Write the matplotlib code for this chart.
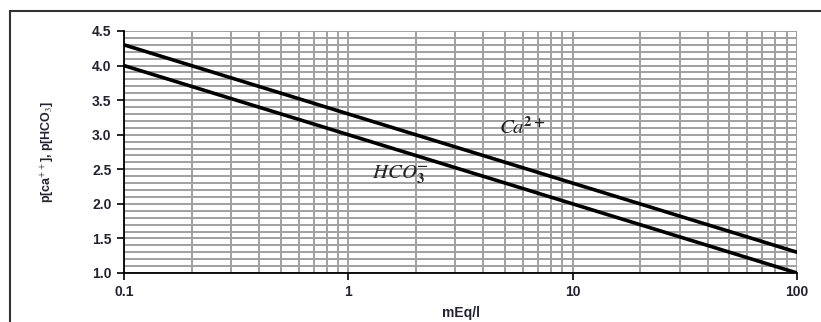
import numpy as np
import matplotlib.pyplot as plt
from matplotlib.ticker import FixedLocator, MultipleLocator, NullFormatter
from matplotlib.patches import Rectangle

# Données
conc = [0.1, 1, 10, 100]          # mEq/l
p_ca = [4.3, 3.3, 2.3, 1.3]       # p[Ca++]
p_hco3 = [4.0, 3.0, 2.0, 1.0]     # p[HCO3]
x_ticks = [0.1, 1, 10, 100]
x_tick_labels = ['0.1', '1', '10', '100']
y_ticks = [1.0, 1.5, 2.0, 2.5, 3.0, 3.5, 4.0, 4.5]

plt.rcParams['font.family'] = ['Liberation Sans', 'DejaVu Sans']
plt.rcParams['mathtext.fontset'] = 'stix'

fig = plt.figure(figsize=(8.21, 3.22), dpi=100)
ax = fig.add_axes([124 / 821, 1 - 273 / 322, (797 - 124) / 821, (273 - 31) / 322])

# cadre extérieur
fig.patches.append(Rectangle((10 / 821, -0.1), 1.2, 1 - 11 / 322 + 0.1,
                             transform=fig.transFigure, fill=False,
                             edgecolor='#333333', linewidth=1.5))

ax.set_xscale('log')
ax.set_xlim(0.1, 100)
ax.set_ylim(1.0, 4.5)

minor_x = [m * 10.0 ** e for e in range(-1, 2) for m in range(2, 10)]
ax.xaxis.set_major_locator(FixedLocator(x_ticks))
ax.xaxis.set_minor_locator(FixedLocator(minor_x))
ax.xaxis.set_minor_formatter(NullFormatter())
ax.set_xticks(x_ticks)
ax.set_xticklabels(x_tick_labels, fontweight='bold')
ax.set_yticks(y_ticks)
ax.set_yticklabels([f'{v:.1f}' for v in y_ticks], fontweight='bold')
ax.yaxis.set_minor_locator(MultipleLocator(0.1))

ax.grid(True, which='both', color='#a0a0a0', linewidth=1.4)
ax.set_axisbelow(True)

ax.plot(conc, p_ca, color='black', linewidth=2.6)
ax.plot(conc, p_hco3, color='black', linewidth=2.6)

ax.text(4.7, 3.02, r'$\mathbf{\mathit{Ca}}^{\mathbf{2+}}$', fontsize=15, color='#222222')
ax.text(1.27, 2.36, r'$\mathbf{\mathit{HCO}}_{\mathbf{3}}^{\mathbf{-}}$', fontsize=15, color='#222222')

for s in ['top', 'right']:
    ax.spines[s].set_visible(False)
for s in ['left', 'bottom']:
    ax.spines[s].set_linewidth(1.3)
    ax.spines[s].set_color('black')

ax.tick_params(axis='both', which='major', direction='out', length=5, width=1.2,
               labelsize=10, colors='black', labelcolor='#222233')
ax.tick_params(axis='both', which='minor', length=0)
ax.tick_params(axis='x', pad=4)
ax.tick_params(axis='y', pad=4)

ax.set_xlabel('mEq/l', fontsize=10, fontweight='bold', color='#222233', labelpad=5)
ax.set_ylabel(r'p[ca$^{++}$], p[HCO$_3$]', fontsize=9, fontweight='bold',
              color='#222233', labelpad=26)

fig.savefig('out.png', dpi=100)
